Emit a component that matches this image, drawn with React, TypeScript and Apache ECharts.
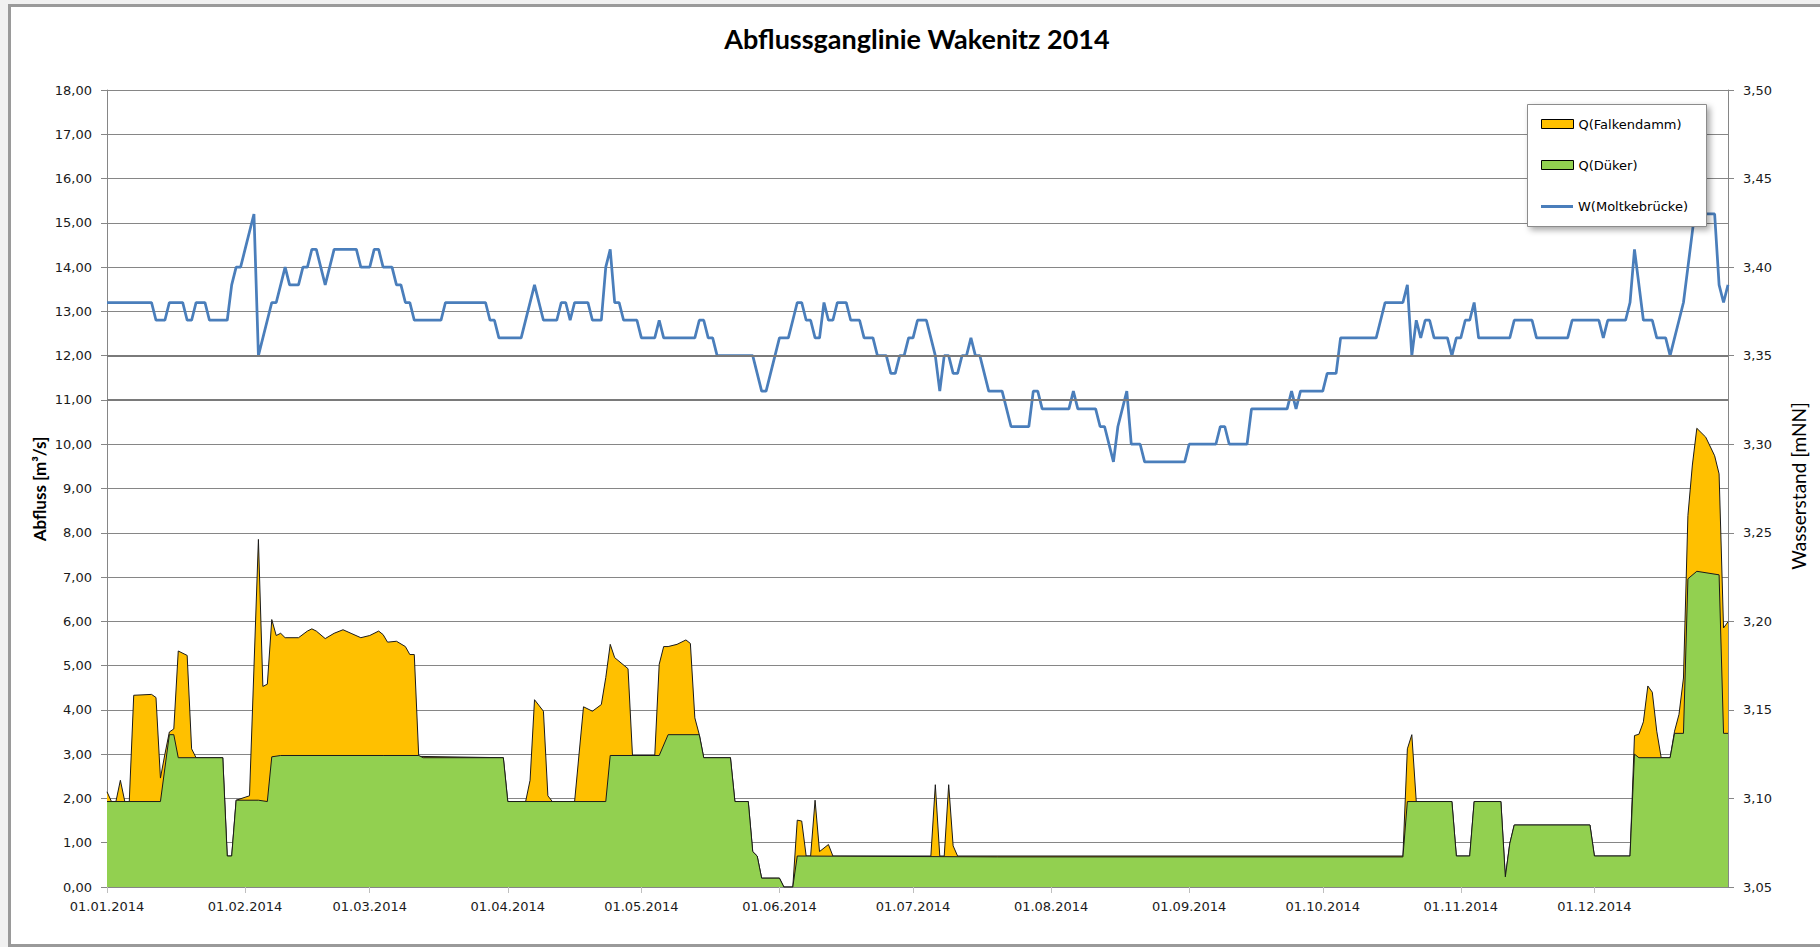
import React, { useEffect, useRef } from 'react';
import * as echarts from 'echarts';

// Day index (0 = 01.01.2014) of the month starts used as x-axis ticks
const monthTicks = [0, 31, 59, 90, 120, 151, 181, 212, 243, 273, 304, 334];
const monthLabels = [
  '01.01.2014', '01.02.2014', '01.03.2014', '01.04.2014', '01.05.2014', '01.06.2014',
  '01.07.2014', '01.08.2014', '01.09.2014', '01.10.2014', '01.11.2014', '01.12.2014',
];

// Q(Falkendamm) [m³/s] : [day, value]
const falkendamm: [number, number][] = [
  [0, 2.15], [1, 1.93], [2, 1.93], [3, 2.41], [4, 1.93], [5, 1.93], [6, 4.33], [10, 4.35], [11, 4.28],
  [12, 2.46], [13, 3.0], [14, 3.5], [15, 3.57], [16, 5.33], [18, 5.23], [19, 3.12], [20, 2.92], [26, 2.92],
  [27, 0.7], [28, 0.7], [29, 1.96], [32, 2.06], [34, 7.85], [35, 4.53], [36, 4.58], [37, 6.04], [38, 5.68],
  [39, 5.73], [40, 5.63], [43, 5.63], [45, 5.78], [46, 5.83], [47, 5.78], [49, 5.61], [51, 5.73], [53, 5.81],
  [55, 5.72], [57, 5.63], [59, 5.68], [61, 5.78], [62, 5.7], [63, 5.53], [65, 5.55], [67, 5.43], [68, 5.25],
  [69, 5.25], [70, 2.95], [89, 2.92], [90, 1.93], [94, 1.93], [95, 2.41], [96, 4.23], [98, 3.97], [99, 2.06],
  [100, 1.93], [105, 1.93], [107, 4.07], [109, 3.97], [111, 4.12], [112, 4.73], [113, 5.48], [114, 5.18],
  [117, 4.93], [118, 2.97], [123, 2.97], [124, 5.03], [125, 5.43], [126, 5.43], [128, 5.48], [130, 5.58],
  [131, 5.5], [132, 3.82], [133, 3.44], [134, 2.92], [140, 2.92], [141, 1.93], [144, 1.93], [145, 0.8],
  [146, 0.7], [147, 0.2], [151, 0.2], [152, 0], [154, 0], [155, 1.51], [156, 1.49], [157, 0.7], [158, 0.7],
  [159, 1.96], [160, 0.8], [162, 0.96], [163, 0.7], [185, 0.7], [186, 2.31], [187, 0.7], [188, 0.7],
  [189, 2.31], [190, 0.93], [191, 0.7], [291, 0.7], [292, 3.12], [293, 3.44], [294, 1.93], [302, 1.93],
  [303, 0.7], [306, 0.7], [307, 1.93], [313, 1.93], [314, 0.23], [315, 0.98], [316, 1.4], [333, 1.4],
  [334, 0.7], [342, 0.7], [343, 3.42], [344, 3.45], [345, 3.73], [346, 4.54], [347, 4.4], [348, 3.52],
  [349, 2.92], [351, 2.92], [352, 3.52], [353, 3.9], [354, 4.72], [355, 8.39], [356, 9.53], [357, 10.36],
  [359, 10.16], [361, 9.74], [362, 9.33], [363, 5.85], [364, 5.99],
];

// Q(Düker) [m³/s] : [day, value]
const dueker: [number, number][] = [
  [0, 1.93], [12, 1.93], [14, 3.44], [15, 3.44], [16, 2.92], [26, 2.92], [27, 0.7], [28, 0.7], [29, 1.96],
  [34, 1.96], [36, 1.93], [37, 2.94], [39, 2.97], [62, 2.97], [70, 2.97], [71, 2.92], [89, 2.92], [90, 1.93],
  [112, 1.93], [113, 2.97], [124, 2.97], [126, 3.44], [133, 3.44], [134, 2.92], [140, 2.92], [141, 1.93],
  [144, 1.93], [145, 0.8], [146, 0.7], [147, 0.2], [151, 0.2], [152, 0], [154, 0], [155, 0.7], [200, 0.68],
  [291, 0.68], [292, 1.93], [302, 1.93], [303, 0.7], [306, 0.7], [307, 1.93], [313, 1.93], [314, 0.23],
  [315, 0.98], [316, 1.4], [333, 1.4], [334, 0.7], [342, 0.7], [343, 3.0], [344, 2.92], [351, 2.92],
  [352, 3.47], [354, 3.47], [355, 6.96], [357, 7.13], [362, 7.05], [363, 3.47], [364, 3.47],
];

// W(Moltkebrücke) [mNN] : [day, value]
const moltke: [number, number][] = [
  [0, 3.38], [10, 3.38], [11, 3.37], [13, 3.37], [14, 3.38], [17, 3.38], [18, 3.37], [19, 3.37], [20, 3.38],
  [22, 3.38], [23, 3.37], [27, 3.37], [28, 3.39], [29, 3.4], [30, 3.4], [31, 3.41], [33, 3.43], [34, 3.35],
  [37, 3.38], [38, 3.38], [39, 3.39], [40, 3.4], [41, 3.39], [43, 3.39], [44, 3.4], [45, 3.4], [46, 3.41],
  [47, 3.41], [49, 3.39], [51, 3.41], [56, 3.41], [57, 3.4], [59, 3.4], [60, 3.41], [61, 3.41], [62, 3.4],
  [64, 3.4], [65, 3.39], [66, 3.39], [67, 3.38], [68, 3.38], [69, 3.37], [75, 3.37], [76, 3.38], [85, 3.38],
  [86, 3.37], [87, 3.37], [88, 3.36], [93, 3.36], [96, 3.39], [98, 3.37], [101, 3.37], [102, 3.38],
  [103, 3.38], [104, 3.37], [105, 3.38], [108, 3.38], [109, 3.37], [111, 3.37], [112, 3.4], [113, 3.41],
  [114, 3.38], [115, 3.38], [116, 3.37], [119, 3.37], [120, 3.36], [123, 3.36], [124, 3.37], [125, 3.36],
  [132, 3.36], [133, 3.37], [134, 3.37], [135, 3.36], [136, 3.36], [137, 3.35], [145, 3.35], [147, 3.33],
  [148, 3.33], [150, 3.35], [151, 3.36], [153, 3.36], [154, 3.37], [155, 3.38], [156, 3.38], [157, 3.37],
  [158, 3.37], [159, 3.36], [160, 3.36], [161, 3.38], [162, 3.37], [163, 3.37], [164, 3.38], [166, 3.38],
  [167, 3.37], [169, 3.37], [170, 3.36], [172, 3.36], [173, 3.35], [175, 3.35], [176, 3.34], [177, 3.34],
  [178, 3.35], [179, 3.35], [180, 3.36], [181, 3.36], [182, 3.37], [184, 3.37], [185, 3.36], [186, 3.35],
  [187, 3.33], [188, 3.35], [189, 3.35], [190, 3.34], [191, 3.34], [192, 3.35], [193, 3.35], [194, 3.36],
  [195, 3.35], [196, 3.35], [198, 3.33], [201, 3.33], [203, 3.31], [207, 3.31], [208, 3.33], [209, 3.33],
  [210, 3.32], [216, 3.32], [217, 3.33], [218, 3.32], [222, 3.32], [223, 3.31], [224, 3.31], [226, 3.29],
  [227, 3.31], [229, 3.33], [230, 3.3], [232, 3.3], [233, 3.29], [242, 3.29], [243, 3.3], [249, 3.3],
  [250, 3.31], [251, 3.31], [252, 3.3], [256, 3.3], [257, 3.32], [265, 3.32], [266, 3.33], [267, 3.32],
  [268, 3.33], [273, 3.33], [274, 3.34], [276, 3.34], [277, 3.36], [285, 3.36], [287, 3.38], [291, 3.38],
  [292, 3.39], [293, 3.35], [294, 3.37], [295, 3.36], [296, 3.37], [297, 3.37], [298, 3.36], [301, 3.36],
  [302, 3.35], [303, 3.36], [304, 3.36], [305, 3.37], [306, 3.37], [307, 3.38], [308, 3.36], [315, 3.36],
  [316, 3.37], [320, 3.37], [321, 3.36], [328, 3.36], [329, 3.37], [335, 3.37], [336, 3.36], [337, 3.37],
  [341, 3.37], [342, 3.38], [343, 3.41], [345, 3.37], [347, 3.37], [348, 3.36], [350, 3.36], [351, 3.35],
  [352, 3.36], [353, 3.37], [354, 3.38], [355, 3.4], [356, 3.42], [357, 3.44], [358, 3.44], [359, 3.43],
  [361, 3.43], [362, 3.39], [363, 3.38], [364, 3.39],
];

const TICK_FONT = "'DejaVu Sans', Verdana, sans-serif";
const TITLE_FONT = "Lato, 'Noto Sans', sans-serif";

const ORANGE = '#FFC000';
const GREEN = '#92D050';
const BLUE = '#4A7EBB';

export default function App() {
  const ref = useRef<HTMLDivElement>(null);

  useEffect(() => {
    if (!ref.current) return;
    const chart = echarts.init(ref.current, null, { renderer: 'svg' });
    const fmt2 = (v: number) => v.toFixed(2).replace('.', ',');
    const dayLabel = (v: number) => {
      const i = monthTicks.indexOf(Math.round(v));
      return i >= 0 ? monthLabels[i] : '';
    };
    const gridColor = '#868686';
    const legendText = { fontFamily: TICK_FONT, fontSize: 13, color: '#000' };

    chart.setOption({
      animation: false,
      backgroundColor: 'transparent',
      grid: { left: 107, right: 92, top: 90, bottom: 60, containLabel: false },
      graphic: [
        {
          type: 'text', x: 917, y: 38, z: 10,
          style: {
            text: 'Abflussganglinie Wakenitz 2014', fill: '#000',
            fontFamily: TITLE_FONT, fontWeight: 'bold', fontSize: 27,
            textAlign: 'center', textVerticalAlign: 'middle', align: 'center', verticalAlign: 'middle',
          },
        },
        {
          type: 'text', x: 39, y: 489, rotation: Math.PI / 2, z: 10,
          style: {
            text: 'Abfluss [m³/s]', fill: '#000',
            fontFamily: TITLE_FONT, fontWeight: 'bold', fontSize: 17,
            textAlign: 'center', textVerticalAlign: 'middle', align: 'center', verticalAlign: 'middle',
          },
        },
        {
          type: 'text', x: 1798, y: 486, rotation: Math.PI / 2, z: 10,
          style: {
            text: 'Wasserstand [mNN]', fill: '#000',
            fontFamily: TITLE_FONT, fontWeight: 'normal', fontSize: 19,
            textAlign: 'center', textVerticalAlign: 'middle', align: 'center', verticalAlign: 'middle',
          },
        },
        {
          // legend frame with shadow
          type: 'rect', z: 8, silent: true,
          shape: { x: 1527.5, y: 104.5, width: 179, height: 122 },
          style: {
            fill: '#fff', stroke: '#8c8c8c', lineWidth: 1,
            shadowBlur: 6, shadowColor: 'rgba(0,0,0,0.35)', shadowOffsetX: 3, shadowOffsetY: 3,
          },
        },
      ],
      legend: [
        {
          orient: 'vertical', left: 1541, top: 117.5, z: 12, padding: 0,
          itemGap: 28, itemWidth: 32, itemHeight: 9,
          textStyle: legendText,
          data: [
            { name: 'Q(Falkendamm)', icon: 'rect', itemStyle: { color: ORANGE, borderColor: '#000', borderWidth: 1 } },
            { name: 'Q(Düker)', icon: 'rect', itemStyle: { color: GREEN, borderColor: '#000', borderWidth: 1 } },
          ],
        },
        {
          orient: 'vertical', left: 1541, top: 200, z: 12, padding: 0,
          itemGap: 0, itemWidth: 32, itemHeight: 3,
          textStyle: legendText,
          data: [
            { name: 'W(Moltkebrücke)', icon: 'rect', itemStyle: { color: BLUE, borderWidth: 0 } },
          ],
        },
      ],
      xAxis: {
        type: 'value', min: 0, max: 364,
        axisLine: { show: true, lineStyle: { color: gridColor, width: 1 } },
        axisTick: { show: true, customValues: monthTicks, length: 6, lineStyle: { color: '#bfbfbf' } },
        axisLabel: {
          show: true, customValues: monthTicks, formatter: dayLabel,
          fontFamily: TICK_FONT, fontSize: 13, color: '#1a1a1a', margin: 13,
        },
        splitLine: { show: false },
      },
      yAxis: [
        {
          type: 'value', min: 0, max: 18, interval: 1, position: 'left',
          axisLine: { show: true, lineStyle: { color: gridColor } },
          axisTick: { show: true, inside: false, length: 6, lineStyle: { color: gridColor } },
          axisLabel: { formatter: fmt2, fontFamily: TICK_FONT, fontSize: 13, color: '#1a1a1a', margin: 15 },
          splitLine: { show: true, lineStyle: { color: gridColor, width: 1 } },
        },
        {
          type: 'value', min: 3.05, max: 3.5, interval: 0.05, position: 'right',
          axisLine: { show: true, lineStyle: { color: gridColor } },
          axisTick: { show: true, inside: false, length: 6, lineStyle: { color: gridColor } },
          axisLabel: { formatter: fmt2, fontFamily: TICK_FONT, fontSize: 13, color: '#1a1a1a', margin: 15 },
          splitLine: { show: false },
        },
      ],
      series: [
        {
          name: 'Q(Falkendamm)', type: 'line', yAxisIndex: 0, data: falkendamm,
          symbol: 'none', z: 2,
          lineStyle: { color: '#1a1a1a', width: 1 },
          itemStyle: { color: ORANGE },
          areaStyle: { color: ORANGE, opacity: 1 },
          markLine: {
            silent: true, symbol: 'none', label: { show: false },
            lineStyle: { color: '#7a7a7a', width: 2, type: 'solid' },
            data: [{ yAxis: 11 }, { yAxis: 12 }],
          },
        },
        {
          name: 'Q(Düker)', type: 'line', yAxisIndex: 0, data: dueker,
          symbol: 'none', z: 3,
          lineStyle: { color: '#1a1a1a', width: 1 },
          itemStyle: { color: GREEN },
          areaStyle: { color: GREEN, opacity: 1 },
        },
        {
          name: 'W(Moltkebrücke)', type: 'line', yAxisIndex: 1, data: moltke,
          symbol: 'none', z: 4,
          lineStyle: { color: BLUE, width: 2.75 },
          itemStyle: { color: BLUE },
        },
      ],
    });

    return () => chart.dispose();
  }, []);

  return (
    <div style={{ position: 'absolute', left: 0, top: 0, width: 1820, height: 947, background: '#f1f1f1', overflow: 'hidden' }}>
      <div style={{ position: 'absolute', left: 8, top: 4, width: 1830, height: 937, background: '#fff', border: '3px solid #9a9a9a' }} />
      <div ref={ref} style={{ position: 'absolute', left: 0, top: 0, width: 1820, height: 947 }} />
    </div>
  );
}
